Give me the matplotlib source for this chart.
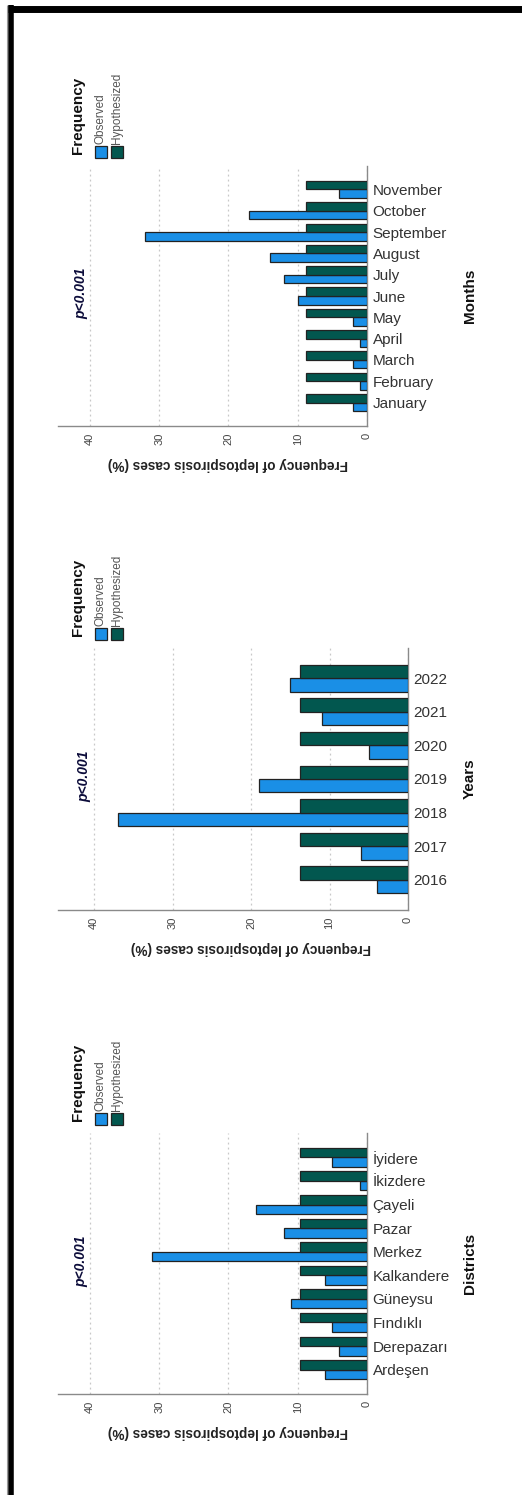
import matplotlib.pyplot as plt
import matplotlib.patches as mpatches
import matplotlib.transforms as mtransforms
from matplotlib.lines import Line2D
import numpy as np

plt.rcParams['font.family'] = ['Liberation Sans', 'DejaVu Sans']

# months panel
months = ["January", "February", "March", "April", "May", "June",
          "July", "August", "September", "October", "November"]
months_observed = [2, 1, 2, 1, 2, 10, 12, 14, 32, 17, 4]
months_hypothesized = [8.8] * 11

# years panel
years = ["2016", "2017", "2018", "2019", "2020", "2021", "2022"]
years_observed = [4, 6, 37, 19, 5, 11, 15]
years_hypothesized = [13.7] * 7

# districts panel
districts = ["Ardeşen", "Derepazarı", "Fındıklı", "Güneysu", "Kalkandere",
             "Merkez", "Pazar", "Çayeli", "İkizdere", "İyidere"]
districts_observed = [6, 4, 5, 11, 6, 31, 12, 16, 1, 5]
districts_hypothesized = [9.7] * 10

W, H = 522, 1495
OBS_COLOR = "#1a8fe6"
HYP_COLOR = "#02574f"
EDGE = "#222222"

fig = plt.figure(figsize=(W / 100, H / 100), dpi=100)


def px_axes(left, right, top, bottom):
    return fig.add_axes([left / W, 1 - bottom / H, (right - left) / W, (bottom - top) / H])


def draw_panel(box, cats, obs, hyp, title, pad):
    left, right, top, bottom = box
    ax = px_axes(left, right, top, bottom)
    n = len(cats)
    y = np.arange(n)
    h = 0.4
    ax.barh(y - h / 2, obs, height=h, color=OBS_COLOR, edgecolor=EDGE, linewidth=0.9, zorder=3)
    ax.barh(y + h / 2, hyp, height=h, color=HYP_COLOR, edgecolor=EDGE, linewidth=0.9, zorder=3)
    ax.set_xlim(44.6, 0)
    ax.set_ylim(-pad, n - 1 + pad)

    ax.set_xticks([0, 10, 20, 30, 40])
    ax.set_yticks(y)
    ax.set_yticklabels(cats)
    ax.yaxis.tick_right()
    ax.tick_params(axis='y', length=0, pad=4, labelsize=11, labelcolor="#333333")
    ax.tick_params(axis='x', length=0, pad=5, labelsize=8, labelcolor="#444444", labelrotation=90)

    for s in ("left", "top"):
        ax.spines[s].set_visible(False)
    for s in ("right", "bottom"):
        ax.spines[s].set_color("#8a8a8a")
        ax.spines[s].set_linewidth(1.0)
    ax.grid(axis='x', linestyle=(0, (1.5, 2.5)), color="#c8c8c8", linewidth=0.9, zorder=0)
    ax.set_axisbelow(True)

    # axis title, upside down
    tr = mtransforms.blended_transform_factory(ax.transData, ax.transAxes)
    ax.text(20, -38 / (bottom - top), "Frequency of leptospirosis cases (%)", transform=tr,
            rotation=180, ha='center', va='center', fontsize=9.8, fontweight='bold', color="#222222")

    # p value
    ax.text(41.3, 0.51, "p<0.001", transform=tr, rotation=90, ha='center', va='center',
            fontsize=10, fontstyle='italic', fontweight='bold', color="#0c0c3a")

    # category title
    fig.text(470 / W, 1 - ((top + bottom) / 2) / H, title, rotation=90, ha='center', va='center',
             fontsize=11, fontweight='bold', color="#111111")

    # legend
    fig.text(78 / W, 1 - (top - 12) / H, "Frequency", rotation=90, ha='center', va='bottom',
             fontsize=11, fontweight='bold', color="#111111")
    for cx, col, lab in ((101, OBS_COLOR, "Observed"), (117, HYP_COLOR, "Hypothesized")):
        fig.patches.append(mpatches.Rectangle(((cx - 6) / W, 1 - (top - 8) / H), 12 / W, 12 / H,
                                              transform=fig.transFigure, facecolor=col,
                                              edgecolor=EDGE, linewidth=0.9))
        fig.text(cx / W, 1 - (top - 22) / H, lab, rotation=90, ha='center', va='bottom',
                 fontsize=8.5, color="#555555")
    return ax


draw_panel((58, 367, 166, 426), months, months_observed, months_hypothesized, "Months", 1.1)
draw_panel((58, 408, 648, 910), years, years_observed, years_hypothesized, "Years", 0.9)
draw_panel((58, 367, 1133, 1394), districts, districts_observed, districts_hypothesized, "Districts", 1.03)

# outer frame (top and left only)
fig.add_artist(Line2D([8 / W, 1], [1 - 8.5 / H, 1 - 8.5 / H], color="black", linewidth=5,
                      transform=fig.transFigure, solid_capstyle='butt'))
fig.add_artist(Line2D([10.5 / W, 10.5 / W], [0, 1 - 5 / H], color="black", linewidth=4,
                      transform=fig.transFigure, solid_capstyle='butt'))
fig.add_artist(Line2D([7 / W, 7 / W], [0, 1 - 5 / H], color="#9a9a9a", linewidth=0.8,
                      transform=fig.transFigure, solid_capstyle='butt'))

fig.savefig("out.png", dpi=100)
